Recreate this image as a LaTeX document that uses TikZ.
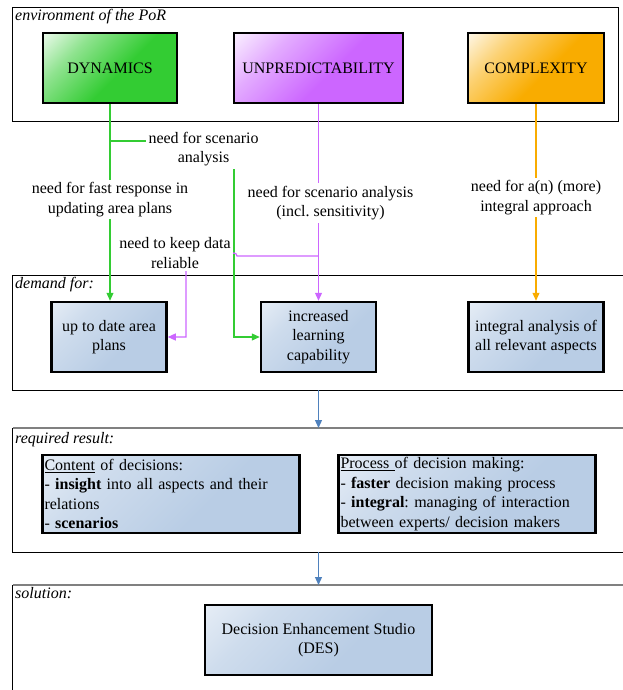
\documentclass[tikz,border=0pt]{standalone}
\usepackage{fontspec}
\setmainfont{Liberation Serif}
\usetikzlibrary{arrows.meta}
\definecolor{cG}{HTML}{33CC33}
\definecolor{cP}{HTML}{CC66FF}
\definecolor{cO}{HTML}{F9AC00}
\definecolor{cB}{HTML}{B9CDE5}
\definecolor{cLine}{HTML}{4F81BD}
\colorlet{cGm}{cG!55!white}\colorlet{cGl}{cG!8!white}
\colorlet{cPm}{cP!55!white}\colorlet{cPl}{cP!8!white}
\colorlet{cOm}{cO!55!white}\colorlet{cOl}{cO!8!white}
\colorlet{cBm}{cB!70!white}\colorlet{cBl}{cB!35!white}
\pgfdeclareverticalshading{shG}{100bp}{color(0bp)=(cG); color(45bp)=(cG); color(68bp)=(cGm); color(86bp)=(cGl); color(100bp)=(cGl)}
\pgfdeclareverticalshading{shP}{100bp}{color(0bp)=(cP); color(45bp)=(cP); color(68bp)=(cPm); color(86bp)=(cPl); color(100bp)=(cPl)}
\pgfdeclareverticalshading{shO}{100bp}{color(0bp)=(cO); color(45bp)=(cO); color(68bp)=(cOm); color(86bp)=(cOl); color(100bp)=(cOl)}
\pgfdeclareverticalshading{shB}{100bp}{color(0bp)=(cB); color(40bp)=(cB); color(68bp)=(cBm); color(86bp)=(cBl); color(100bp)=(cBl)}
\newcommand{\fsz}{\fontsize{16}{19.5}\selectfont\frenchspacing}
\tikzset{
  frame/.style={draw=black, line width=0.8pt},
  ftop/.style={draw=black!50, line width=1.2pt},
  flab/.style={anchor=base west, font=\fsz\itshape, inner sep=0pt},
  box/.style={draw=black, line width=2.5pt, minimum height=70pt, inner sep=1pt,
    align=center, font=\fsz, shade, shading angle=45},
  gbox/.style={box, shading=shG},
  pbox/.style={box, shading=shP},
  obox/.style={box, shading=shO},
  bbox/.style={box, shading=shB},
  tbox/.style={bbox, align=left, text width=253pt, minimum height=78pt, inner sep=2pt},
  lab/.style={fill=white, align=center, font=\fsz, inner sep=2.5pt},
  con/.style={line width=1.2pt, -{Triangle[length=8pt,width=7pt]}},
  gl/.style={con, draw=cG},
  pl/.style={con, draw=cP},
  ol/.style={con, draw=cO},
  bl/.style={con, draw=cLine}
}
\begin{document}
\begin{tikzpicture}[x=1pt,y=-1pt]
\useasboundingbox (0,0) rectangle (622,690);
% frames
\draw[frame] (12.5,7.5) rectangle (618,121.5);
\draw[frame] (630,275) -- (12.5,275) -- (12.5,390) -- (630,390);
\draw[frame] (12.5,428) -- (12.5,552) -- (630,552);
\draw[ftop] (12.5,428) -- (630,428);
\draw[frame] (12.5,585) -- (12.5,700);
\draw[ftop] (12.5,585) -- (630,585);
\node[flab] (lenv) at (15,20.5) {environment of the PoR};
\node[flab] (ldem) at (15,288.5) {demand for:};
\node[flab] (lres) at (15,443.5) {required result:};
\node[flab] (lsol) at (15,598.5) {solution:};
% top boxes
\node[gbox, minimum width=134pt] (dyn) at (110,68) {DYNAMICS};
\node[pbox, minimum width=169pt] (unp) at (318.5,68) {UNPREDICTABILITY};
\node[obox, minimum width=136pt] (cpx) at (536,68) {COMPLEXITY};
% demand boxes
\node[bbox, minimum width=115pt] (upd) at (109,337) {up to date area\\plans};
\node[bbox, minimum width=115pt] (lrn) at (318.5,337) {increased\\learning\\capability};
\node[bbox, minimum width=135pt] (int) at (536,337) {integral analysis of\\all relevant aspects};
% result boxes
\node[tbox] (cnt) at (171,494) {\underline{Content} of decisions:\\- \textbf{insight} into all aspects and their\\relations\\- \textbf{scenarios}};
\node[tbox] (prc) at (467,494) {\underline{Process\ }of decision making:\\- \textbf{faster} decision making process\\- \textbf{integral}: managing of interaction\\between experts/ decision makers};
% solution box
\node[bbox, minimum width=227pt] (des) at (318.5,640) {Decision Enhancement Studio\\(DES)};
% coordinates
\coordinate (g1) at (110,141);
\coordinate (g2) at (234,141);
\coordinate (g3) at (234,337);
\coordinate (p1) at (318.5,256);
\coordinate (p2) at (237,256);
\coordinate (p3) at (186,256);
\coordinate (p4) at (186,337);
\coordinate (db) at (318.5,390);
\coordinate (rt) at (318.5,428);
\coordinate (rb) at (318.5,552);
\coordinate (st) at (318.5,585);
% connectors
\draw[gl] (dyn.south) -- (dyn.south |- upd.north);
\draw[gl] (g1) -- (g2) -- (g3) -- (lrn.west);
\draw[pl] (unp.south) -- (unp.south |- lrn.north);
\draw[pl] (p1) -- (p2) arc (0:-180:3) -- (p3) -- (p4) -- (upd.east);
\draw[ol] (cpx.south) -- (cpx.south |- int.north);
\draw[bl] (db) -- (rt);
\draw[bl] (rb) -- (st);
% labels
\node[lab] (lscen) at (203.6,149) {need for scenario\\analysis};
\node[lab] (lfast) at (110,199.5) {need for fast response in\\updating area plans};
\node[lab] (lsens) at (330.5,203) {need for scenario analysis\\(incl. sensitivity)};
\node[lab] (lkeep) at (175,253) {need to keep data\\reliable};
\node[lab] (lint) at (536,197.5) {need for a(n) (more)\\integral approach};
\end{tikzpicture}
\end{document}
